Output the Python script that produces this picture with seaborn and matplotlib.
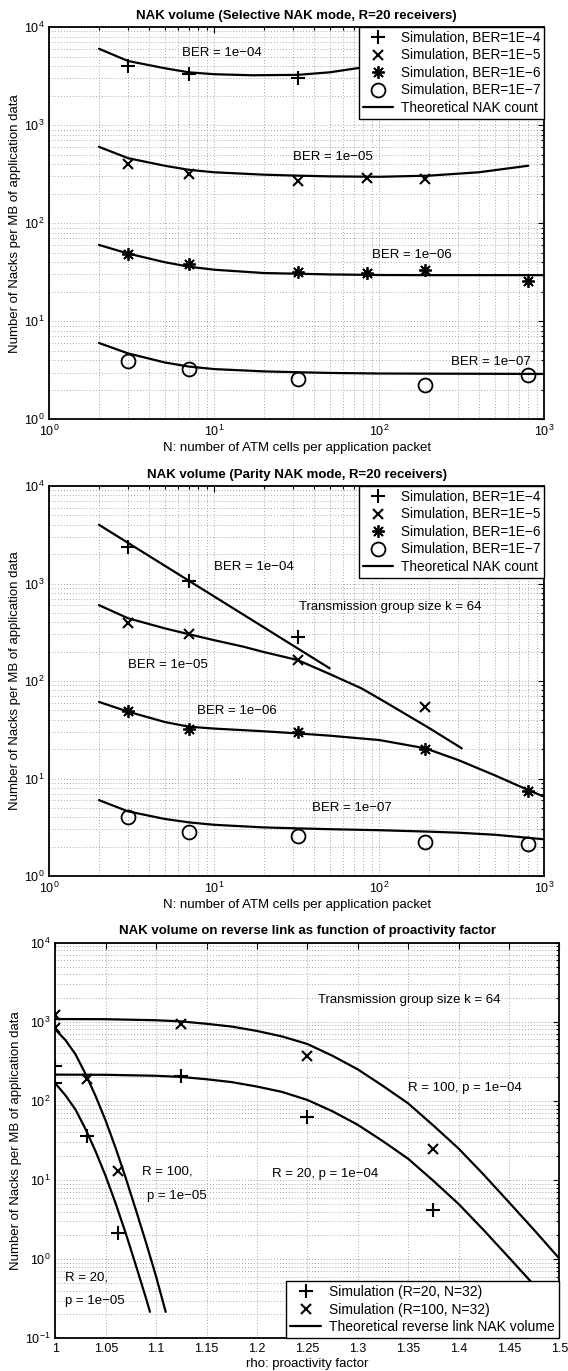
import numpy as np
import pandas as pd
import matplotlib
matplotlib.use("Agg")
import matplotlib.pyplot as plt
from matplotlib.lines import Line2D
from matplotlib.ticker import LogLocator, FixedLocator, FormatStrFormatter, NullFormatter
import seaborn as sns

sns.set_style("white")
plt.rcParams["font.family"] = ["Liberation Sans", "DejaVu Sans"]
plt.rcParams["mathtext.fontset"] = "custom"
plt.rcParams["mathtext.rm"] = "Liberation Sans"
plt.rcParams["text.color"] = "k"
plt.rcParams["axes.labelcolor"] = "k"
plt.rcParams["axes.titlecolor"] = "k"

# ---------------- Selective NAK mode (R = 20) ----------------
sel_sim_N = [3, 7, 32, 84, 190, 800]
sel_sim_1e4 = [4000, 3300, 3000]                 # N = 3, 7, 32
sel_sim_1e5 = [400, 320, 270, 290, 285]          # N = 3 .. 190
sel_sim_1e6 = [48, 38, 32, 31, 33, 26]           # all N
sel_sim_1e7_N = [3, 7, 32, 190, 800]
sel_sim_1e7 = [3.95, 3.25, 2.55, 2.22, 2.8]

sel_th_1e4_N = [2, 3, 5, 7, 10, 17, 32, 50, 75, 150, 300, 800]
sel_th_1e4 = [6000, 4500, 3800, 3450, 3300, 3220, 3250, 3450, 3820, 4700, 6200, 9500]
sel_th_1e5_N = [2, 3, 5, 7, 10, 20, 32, 50, 100, 200, 400, 800]
sel_th_1e5 = [600, 460, 385, 350, 330, 312, 305, 300, 297, 305, 330, 385]
sel_th_N = [2, 3, 5, 7, 10, 20, 32, 50, 100, 200, 500, 1000]
sel_th_1e6 = [60, 49, 40, 36, 33.5, 31, 30.5, 30, 29.6, 29.5, 29.5, 29.5]
sel_th_1e7 = [6.0, 4.7, 3.8, 3.45, 3.25, 3.08, 3.02, 2.97, 2.93, 2.92, 2.91, 2.9]

# ---------------- Parity NAK mode (R = 20) ----------------
par_sim_1e4 = [2350, 1060, 281]                  # N = 3, 7, 32
par_sim_1e5_N = [3, 7, 32, 190]
par_sim_1e5 = [390, 302, 164, 54]
par_sim_N = [3, 7, 32, 190, 800]
par_sim_1e6 = [49.6, 32.2, 29.8, 20.1, 7.45]
par_sim_1e7 = [4.0, 2.85, 2.59, 2.21, 2.11]

par_th_1e4_N = [2, 50]
par_th_1e4 = [4000, 135]
par_th_1e5_N = [2, 3, 5, 7, 10, 15, 20, 32, 50, 78, 100, 150, 200, 316]
par_th_1e5 = [600, 440, 347, 302, 262, 225, 198, 164, 118, 84, 66, 44, 33, 20.4]
par_th_1e6_N = [2, 3, 5, 7, 10, 20, 32, 50, 100, 190, 300, 500, 800, 1000]
par_th_1e6 = [61, 48.5, 38, 34, 32.5, 30.5, 29, 27.5, 24.8, 20.4, 15.5, 10.8, 7.6, 6.5]
par_th_1e7_N = [2, 3, 5, 7, 10, 20, 32, 50, 100, 200, 300, 500, 1000]
par_th_1e7 = [6.0, 4.6, 3.85, 3.55, 3.35, 3.15, 3.08, 3.02, 2.95, 2.85, 2.78, 2.65, 2.38]

# ---------------- Reverse link vs proactivity factor ----------------
rho_sim = [1.0, 1.0, 1.03125, 1.0625, 1.125, 1.25, 1.375]
sim_R20 = [276, 170, 36.3, 2.16, 208, 63, 4.18]
sim_R100 = [1219, 828, 189, 13.1, 929, 370, 24.4]

rho_p4 = [1.0, 1.05, 1.1, 1.125, 1.15, 1.175, 1.2, 1.225, 1.25, 1.275, 1.3,
          1.325, 1.35, 1.375, 1.4, 1.425, 1.45, 1.475, 1.5]
th_R100_p4 = [1084, 1079, 1047, 1012, 944, 871, 767, 653, 525, 372, 251,
              155, 93.3, 49, 25.1, 11.7, 5.25, 2.34, 1.02]
th_R20_p4 = [215, 214, 208, 201, 188, 173, 152, 130, 103, 74, 50,
             31, 18.6, 9.8, 5.0, 2.33, 1.05, 0.47, 0.2]
rho_R100_p5 = [1.0, 1.01, 1.02, 1.03, 1.04, 1.05, 1.06, 1.07, 1.08, 1.09, 1.1, 1.1095]
th_R100_p5 = [800, 589, 389, 219, 115, 56.2, 25.1, 10.5, 4.17, 1.62, 0.603, 0.216]
rho_R20_p5 = [1.0, 1.01, 1.02, 1.03, 1.04, 1.05, 1.06, 1.07, 1.08, 1.09, 1.0939]
th_R20_p5 = [167, 118, 78, 44, 23, 11.2, 5.0, 2.1, 0.83, 0.32, 0.216]

FS = 9.5
LW = 1.6

W, H = 568, 1371
fig = plt.figure(figsize=(W / 100, H / 100), dpi=100)


def px_axes(x0, y0, x1, y1):
    return fig.add_axes([x0 / W, 1 - y1 / H, (x1 - x0) / W, (y1 - y0) / H])


ax1 = px_axes(49.3, 27, 544.3, 419.3)
ax2 = px_axes(49.3, 486, 544.3, 876)
ax3 = px_axes(55.3, 942.7, 559.3, 1338.3)


def curve(ax, x, y):
    sns.lineplot(x=x, y=y, ax=ax, color="k", lw=LW, estimator=None, sort=False)


MK = {
    "+": dict(marker="+", markersize=10, markeredgewidth=1.5),
    "x": dict(marker="x", markersize=7, markeredgewidth=1.5),
    "*": dict(marker=(8, 2, 0), markersize=9, markeredgewidth=1.3),
    "o": dict(marker="o", markersize=10, markeredgewidth=1.3, markerfacecolor="none"),
}


def points(ax, x, y, m):
    kw = dict(MK[m])
    sns.lineplot(x=x, y=y, ax=ax, color="k", linestyle="", estimator=None, sort=False,
                 markeredgecolor="k", **kw)


def style_axes(ax):
    for s in ax.spines.values():
        s.set_linewidth(1.3)
        s.set_color("k")
    ax.tick_params(which="both", direction="in", top=True, right=True,
                   labelsize=9, colors="k", width=0.8)
    ax.tick_params(which="major", length=4.5)
    ax.tick_params(which="minor", length=2.5)
    ax.grid(True, which="both", linestyle=(0, (1, 2.5)), color="0.55", linewidth=0.6)
    ax.set_axisbelow(True)


def legend_handles(specs):
    hs = []
    for m, lab in specs:
        if m is None:
            hs.append(Line2D([], [], color="k", lw=LW, label=lab))
        else:
            kw = dict(MK[m])
            hs.append(Line2D([], [], color="k", linestyle="", markeredgecolor="k", label=lab, **kw))
    return hs


def add_legend(ax, specs, loc, fs):
    leg = ax.legend(handles=legend_handles(specs), loc=loc, fontsize=fs, frameon=True,
                    fancybox=False, borderaxespad=0.0, borderpad=0.3, labelspacing=0.25,
                    handlelength=2.2, handletextpad=0.6, framealpha=1)
    leg.get_frame().set_edgecolor("k")
    leg.get_frame().set_linewidth(1.0)
    leg.set_zorder(10)
    for t in leg.get_texts():
        t.set_color("k")


ylab = "Number of Nacks per MB of application data"
xlabN = "N: number of ATM cells per application packet"

# ---- Panel 1 ----
curve(ax1, sel_th_1e4_N, sel_th_1e4)
curve(ax1, sel_th_1e5_N, sel_th_1e5)
curve(ax1, sel_th_N, sel_th_1e6)
curve(ax1, sel_th_N, sel_th_1e7)
points(ax1, sel_sim_N[:3], sel_sim_1e4, "+")
points(ax1, sel_sim_N[:5], sel_sim_1e5, "x")
points(ax1, sel_sim_N, sel_sim_1e6, "*")
points(ax1, sel_sim_1e7_N, sel_sim_1e7, "o")
ax1.text(6.4, 5430, "BER = 1e\u221204", fontsize=FS, va="center")
ax1.text(29.8, 471, "BER = 1e\u221205", fontsize=FS, va="center")
ax1.text(90, 47, "BER = 1e\u221206", fontsize=FS, va="center")
ax1.text(272, 3.85, "BER = 1e\u221207", fontsize=FS, va="center")

# ---- Panel 2 ----
curve(ax2, par_th_1e4_N, par_th_1e4)
curve(ax2, par_th_1e5_N, par_th_1e5)
curve(ax2, par_th_1e6_N, par_th_1e6)
curve(ax2, par_th_1e7_N, par_th_1e7)
points(ax2, par_sim_N[:3], par_sim_1e4, "+")
points(ax2, par_sim_1e5_N, par_sim_1e5, "x")
points(ax2, par_sim_N, par_sim_1e6, "*")
points(ax2, par_sim_N, par_sim_1e7, "o")
ax2.text(10, 1490, "BER = 1e\u221204", fontsize=FS, va="center")
ax2.text(32.6, 578, "Transmission group size k = 64", fontsize=FS, va="center")
ax2.text(2.99, 146, "BER = 1e\u221205", fontsize=FS, va="center")
ax2.text(7.9, 49.6, "BER = 1e\u221206", fontsize=FS, va="center")
ax2.text(39.3, 4.94, "BER = 1e\u221207", fontsize=FS, va="center")

sim_specs = [("+", "Simulation, BER=1E\u22124"), ("x", "Simulation, BER=1E\u22125"),
             ("*", "Simulation, BER=1E\u22126"), ("o", "Simulation, BER=1E\u22127"),
             (None, "Theoretical NAK count")]

for ax, title in [(ax1, "NAK volume (Selective NAK mode, R=20 receivers)"),
                  (ax2, "NAK volume (Parity NAK mode, R=20 receivers)")]:
    ax.set_xscale("log")
    ax.set_yscale("log")
    ax.set_xlim(1, 1000)
    ax.set_ylim(1, 1e4)
    ax.xaxis.set_major_locator(LogLocator(base=10, numticks=10))
    ax.xaxis.set_minor_locator(LogLocator(base=10, subs=np.arange(2, 10), numticks=20))
    ax.yaxis.set_major_locator(LogLocator(base=10, numticks=10))
    ax.yaxis.set_minor_locator(LogLocator(base=10, subs=np.arange(2, 10), numticks=20))
    ax.xaxis.set_minor_formatter(NullFormatter())
    ax.yaxis.set_minor_formatter(NullFormatter())
    style_axes(ax)
    ax.set_title(title, fontsize=FS, fontweight="bold", pad=6)
    ax.set_xlabel(xlabN, fontsize=FS, labelpad=2)
    ax.set_ylabel(ylab, fontsize=FS, labelpad=2)
    add_legend(ax, sim_specs, "upper right", 9.8)

# ---- Panel 3 ----
curve(ax3, rho_p4, th_R100_p4)
curve(ax3, rho_p4, th_R20_p4)
curve(ax3, rho_R100_p5, th_R100_p5)
curve(ax3, rho_R20_p5, th_R20_p5)
points(ax3, rho_sim, sim_R20, "+")
points(ax3, rho_sim, sim_R100, "x")
ax3.text(1.261, 1888, "Transmission group size k = 64", fontsize=FS, va="center")
ax3.text(1.350, 144, "R = 100, p = 1e\u221204", fontsize=FS, va="center")
ax3.text(1.2154, 12.1, "R = 20, p = 1e\u221204", fontsize=FS, va="center")
ax3.text(1.0857, 12.7, "R = 100,", fontsize=FS, va="center")
ax3.text(1.0907, 6.28, "p = 1e\u221205", fontsize=FS, va="center")
ax3.text(1.0096, 0.589, "R = 20,", fontsize=FS, va="center")
ax3.text(1.0096, 0.295, "p = 1e\u221205", fontsize=FS, va="center")

ax3.set_yscale("log")
ax3.set_xlim(1, 1.5)
ax3.set_ylim(0.1, 1e4)
ax3.xaxis.set_major_locator(FixedLocator(np.arange(1.0, 1.5001, 0.05)))
ax3.xaxis.set_major_formatter(FormatStrFormatter("%g"))
ax3.yaxis.set_major_locator(LogLocator(base=10, numticks=10))
ax3.yaxis.set_minor_locator(LogLocator(base=10, subs=np.arange(2, 10), numticks=20))
ax3.yaxis.set_minor_formatter(NullFormatter())
style_axes(ax3)
ax3.set_title("NAK volume on reverse link as function of proactivity factor",
              fontsize=FS, fontweight="bold", pad=6)
ax3.set_xlabel("rho: proactivity factor", fontsize=FS, labelpad=2)
ax3.set_ylabel(ylab, fontsize=FS, labelpad=2)
add_legend(ax3, [("+", "Simulation (R=20, N=32)"), ("x", "Simulation (R=100, N=32)"),
                 (None, "Theoretical reverse link NAK volume")], "lower right", 10)

fig.savefig("out.png", dpi=100)
